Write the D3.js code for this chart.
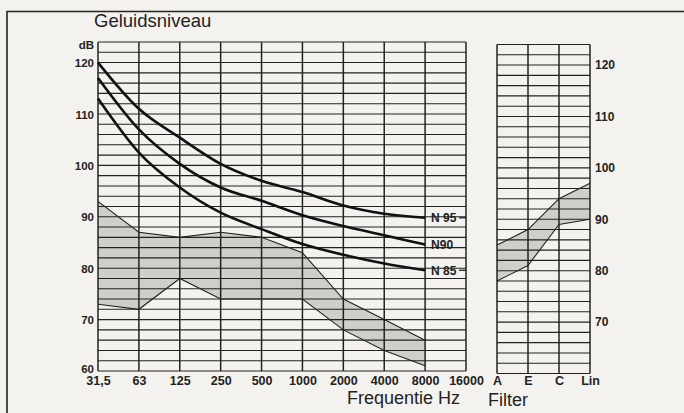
<!DOCTYPE html>
<html lang="nl">
<head>
<meta charset="UTF-8">
<title>Geluidsniveau</title>
<script src="https://cdn.jsdelivr.net/npm/d3@7/dist/d3.min.js"></script>
<style>
    body{
        margin: 0;
        background-color: #f4f2ee;
    }
    svg text{
        font-family: "Liberation Sans", Arial, sans-serif;
        fill: #222;
    }
</style>
</head>
<body>
<script>
    // frequency bands and filter settings
    const freqs = ["31,5", "63", "125", "250", "500", "1000", "2000", "4000", "8000", "16000"];
    const filters = ["A", "E", "C", "Lin"];

    // noise rating curves (dB), 31,5 .. 8000 Hz
    const n95 = [120, 111, 105.4, 100.3, 97, 94.8, 92.2, 90.6, 89.8];
    const n90 = [117, 107, 100.3, 95.7, 93.1, 90.3, 88.2, 86.4, 84.6];
    const n85 = [113, 102.5, 95.7, 90.8, 87.6, 84.7, 82.6, 80.9, 79.6];
    const curveNames = ["N 95", "N90", "N 85"];

    // measured spread (dB), 31,5 .. 8000 Hz
    const bandHigh = [93, 87, 86, 87, 86, 83, 74, 70, 66];
    const bandLow = [73, 72, 78, 74, 74, 74, 68, 64, 61];

    // spread per filter
    const filterHigh = [85, 88, 94, 97];
    const filterLow = [78, 81, 89, 90];

    const leftTicks = [60, 70, 80, 90, 100, 110, 120];
    const rightTicks = [70, 80, 90, 100, 110, 120];

    const width = 684, height = 413;
    const ink = "#222";

    const svg = d3.select("body").append("svg")
        .attr("width", width)
        .attr("height", height);

    // scales
    const x = d3.scalePoint().domain(freqs).range([98, 466]);
    const xf = d3.scalePoint().domain(filters).range([497, 590]);
    const y = d3.scaleLinear().domain([60, 124]).range([371, 42]);
    const yr = d3.scaleLinear().domain([60, 124]).range([373.5, 44.5]);

    const gridValues = d3.range(60, 125, 2);

    // outer frame (top and left only visible)
    svg.append("path")
        .attr("d", `M7,${height}V11.5H${width}`)
        .attr("fill", "none")
        .attr("stroke", ink)
        .attr("stroke-width", 1.6);

    // title
    svg.append("text")
        .attr("x", 94).attr("y", 27)
        .style("font-size", "18.5px")
        .text("Geluidsniveau");

    // shaded bands below the grid
    const bandPts = bandHigh.map((d, i) => ({ f: freqs[i], hi: d, lo: bandLow[i] }));
    const area = d3.area().x(d => x(d.f)).y0(d => y(d.lo)).y1(d => y(d.hi));
    svg.append("path").datum(bandPts)
        .attr("d", area)
        .attr("fill", "#d0cec8");

    const filterPts = filterHigh.map((d, i) => ({ f: filters[i], hi: d, lo: filterLow[i] }));
    const areaF = d3.area().x(d => xf(d.f)).y0(d => yr(d.lo)).y1(d => yr(d.hi));
    svg.append("path").datum(filterPts)
        .attr("d", areaF)
        .attr("fill", "#d0cec8");

    // grid, main panel
    const main = svg.append("g");
    main.selectAll(".h").data(gridValues).enter().append("line")
        .attr("x1", x.range()[0]).attr("x2", x.range()[1])
        .attr("y1", d => y(d)).attr("y2", d => y(d))
        .attr("stroke", ink).attr("stroke-width", 1.1);
    main.selectAll(".v").data(freqs).enter().append("line")
        .attr("x1", d => x(d)).attr("x2", d => x(d))
        .attr("y1", y(60)).attr("y2", y(124))
        .attr("stroke", ink).attr("stroke-width", 1.5);

    // grid, filter panel
    const side = svg.append("g");
    side.selectAll(".h").data(gridValues).enter().append("line")
        .attr("x1", xf.range()[0]).attr("x2", xf.range()[1])
        .attr("y1", d => yr(d)).attr("y2", d => yr(d))
        .attr("stroke", ink).attr("stroke-width", 1.1);
    side.selectAll(".v").data(filters).enter().append("line")
        .attr("x1", d => xf(d)).attr("x2", d => xf(d))
        .attr("y1", yr(60)).attr("y2", yr(124))
        .attr("stroke", ink).attr("stroke-width", 1.5);

    // band outlines
    const lineHi = d3.line().x(d => x(d.f)).y(d => y(d.hi));
    const lineLo = d3.line().x(d => x(d.f)).y(d => y(d.lo));
    [lineHi, lineLo].forEach(l => {
        svg.append("path").datum(bandPts)
            .attr("d", l).attr("fill", "none")
            .attr("stroke", ink).attr("stroke-width", 1.1);
    });
    const lineFHi = d3.line().x(d => xf(d.f)).y(d => yr(d.hi));
    const lineFLo = d3.line().x(d => xf(d.f)).y(d => yr(d.lo));
    [lineFHi, lineFLo].forEach(l => {
        svg.append("path").datum(filterPts)
            .attr("d", l).attr("fill", "none")
            .attr("stroke", ink).attr("stroke-width", 1.1);
    });

    // noise rating curves
    const curves = [n95, n90, n85];
    const nLine = d3.line()
        .x((d, i) => x(freqs[i]))
        .y(d => y(d))
        .curve(d3.curveMonotoneX);
    curves.forEach((c, k) => {
        svg.append("path").datum(c)
            .attr("d", nLine)
            .attr("fill", "none")
            .attr("stroke", "#111")
            .attr("stroke-width", 2.6);

        const last = c[c.length - 1];
        svg.append("text")
            .attr("x", x("8000") + 6)
            .attr("y", y(last))
            .attr("dy", "0.36em")
            .style("font-size", "12px")
            .style("font-weight", "bold")
            .text(curveNames[k]);
        if (curveNames[k].includes(" ")) {
            svg.append("line")
                .attr("x1", x("16000") - 7).attr("x2", x("16000"))
                .attr("y1", y(last)).attr("y2", y(last))
                .attr("stroke", ink).attr("stroke-width", 1.3);
        }
    });

    // axes
    const yAxis = svg.append("g")
        .attr("transform", `translate(${x.range()[0]},0)`)
        .call(d3.axisLeft(y).tickValues(leftTicks.concat([124]))
            .tickSize(0).tickPadding(4)
            .tickFormat(d => d === 124 ? "dB" : d));
    yAxis.select(".domain").remove();
    yAxis.selectAll("text")
        .style("font-size", "11.5px").style("font-weight", "bold")
        .attr("dy", d => d === 124 ? "0.6em" : d === 60 ? "0.15em" : "0.36em");

    const yAxisR = svg.append("g")
        .attr("transform", `translate(${xf.range()[1]},0)`)
        .call(d3.axisRight(yr).tickValues(rightTicks).tickSize(0).tickPadding(5));
    yAxisR.select(".domain").remove();
    yAxisR.selectAll("text")
        .style("font-size", "12px").style("font-weight", "bold");

    const xAxis = svg.append("g")
        .attr("transform", `translate(0,${y(60)})`)
        .call(d3.axisBottom(x).tickSize(0).tickPadding(5));
    xAxis.select(".domain").remove();
    xAxis.selectAll("text")
        .style("font-size", "12.5px").style("font-weight", "bold");

    const xAxisF = svg.append("g")
        .attr("transform", `translate(0,${yr(60)})`)
        .call(d3.axisBottom(xf).tickSize(0).tickPadding(3));
    xAxisF.select(".domain").remove();
    xAxisF.selectAll("text")
        .style("font-size", "12.5px").style("font-weight", "bold");

    // axis titles
    svg.append("text")
        .attr("x", 347).attr("y", 404)
        .style("font-size", "18px")
        .text("Frequentie Hz");
    svg.append("text")
        .attr("x", 488).attr("y", 406)
        .style("font-size", "18px")
        .text("Filter");
</script>
</body>
</html>
